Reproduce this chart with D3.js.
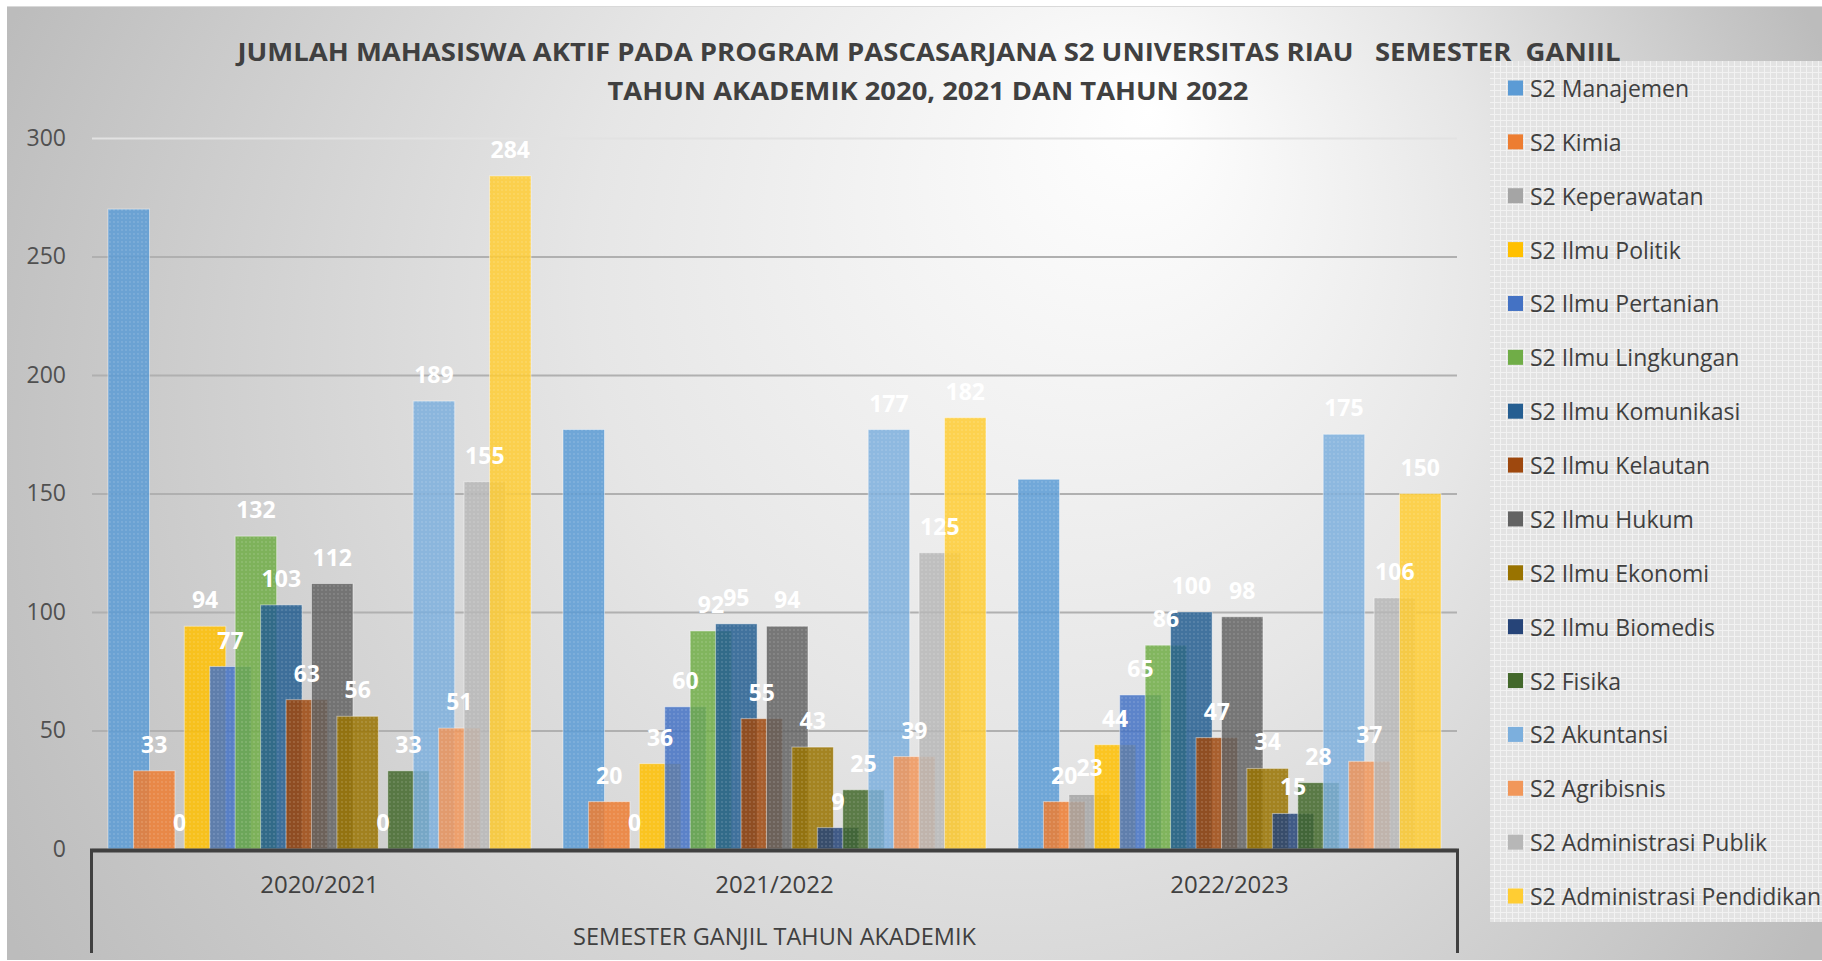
<!DOCTYPE html>
<html>
<head>
<meta charset="utf-8">
<script src="https://cdn.jsdelivr.net/npm/d3@7/dist/d3.min.js"></script>
<style>
  html, body { margin: 0; padding: 0; background: #ffffff; }
  svg { display: block; font-family: "Open Sans", "Noto Sans", sans-serif; }
</style>
</head>
<body>
<div id="chart"></div>
<script>
//Chart: data
var years = ["2020/2021", "2021/2022", "2022/2023"];
var seriesNames = ["S2 Manajemen", "S2 Kimia", "S2 Keperawatan", "S2 Ilmu Politik", "S2 Ilmu Pertanian",
    "S2 Ilmu Lingkungan", "S2 Ilmu Komunikasi", "S2 Ilmu Kelautan", "S2 Ilmu Hukum", "S2 Ilmu Ekonomi",
    "S2 Ilmu Biomedis", "S2 Fisika", "S2 Akuntansi", "S2 Agribisnis", "S2 Administrasi Publik",
    "S2 Administrasi Pendidikan"];
var values2020 = [270, 33, 0, 94, 77, 132, 103, 63, 112, 56, 0, 33, 189, 51, 155, 284];
var values2021 = [177, 20, 0, 36, 60, 92, 95, 55, 94, 43, 9, 25, 177, 39, 125, 182];
var values2022 = [156, 20, 23, 44, 65, 86, 100, 47, 98, 34, 15, 28, 175, 37, 106, 150];
var seriesColors = ["#5B9BD5", "#ED7D31", "#A5A5A5", "#FFC000", "#4472C4", "#70AD47", "#255E91", "#9E480E",
    "#636363", "#997300", "#264478", "#43682B", "#7CAFDD", "#F1975A", "#B7B7B7", "#FFCD33"];
var noLabel = ["S2 Manajemen"];
var yTicks = [0, 50, 100, 150, 200, 250, 300];
var titleLines = ["JUMLAH MAHASISWA AKTIF PADA PROGRAM PASCASARJANA S2 UNIVERSITAS RIAU   SEMESTER  GANJIL",
    "TAHUN AKADEMIK 2020, 2021 DAN TAHUN 2022"];
var groupTitle = "SEMESTER GANJIL TAHUN AKADEMIK";

var valuesByYear = [values2020, values2021, values2022];

//Chart: sizes
var W = 1822, H = 961;
var plotLeft = 92, plotRight = 1457, plotTop = 138, plotBottom = 849;
var barW = 41.5;
var barPad = 16;
var colorText = "#404040";

var svg = d3.select("#chart").append("svg")
    .attr("width", W)
    .attr("height", H);

var defs = svg.append("defs");

//Background gradient (bright spot upper right of centre)
var bg = defs.append("radialGradient")
    .attr("id", "bg")
    .attr("gradientUnits", "userSpaceOnUse")
    .attr("cx", 911).attr("cy", 480).attr("r", 1010)
    .attr("fx", 1150).attr("fy", 110);
bg.append("stop").attr("offset", 0).attr("stop-color", "#ffffff");
bg.append("stop").attr("offset", 0.45).attr("stop-color", "#e6e6e6");
bg.append("stop").attr("offset", 1).attr("stop-color", "#bcbcbc");

//Bar texture
var dots = defs.append("pattern")
    .attr("id", "dots")
    .attr("patternUnits", "userSpaceOnUse")
    .attr("width", 4).attr("height", 4);
dots.append("circle").attr("cx", 2).attr("cy", 2).attr("r", 0.7)
    .attr("fill", "#ffffff").attr("fill-opacity", 0.28);

//Legend texture
var grid = defs.append("pattern")
    .attr("id", "lgrid")
    .attr("patternUnits", "userSpaceOnUse")
    .attr("width", 6).attr("height", 6);
grid.append("rect").attr("width", 6).attr("height", 6).attr("fill", "#e3e3e3");
grid.append("path").attr("d", "M0,0.5H6M0.5,0V6")
    .attr("stroke", "#f2f2f2").attr("stroke-width", 1);

svg.append("rect")
    .attr("x", 7).attr("y", 7)
    .attr("width", W - 7).attr("height", H - 8)
    .attr("fill", "url(#bg)");
svg.append("line")
    .attr("x1", 7).attr("x2", W).attr("y1", 6.5).attr("y2", 6.5)
    .attr("stroke", "#d9d9d9").attr("stroke-width", 1);

//Scales
var x0 = d3.scaleBand().domain(years).range([plotLeft, plotRight]).padding(0);
var x1 = d3.scalePoint().domain(seriesNames)
    .range([barPad + barW / 2, x0.bandwidth() - barPad - barW / 2]);
var y = d3.scaleLinear().domain([0, 300]).range([plotBottom, plotTop]);
var color = d3.scaleOrdinal().domain(seriesNames).range(seriesColors);

//Grid + y axis
var yAxis = svg.append("g")
    .attr("transform", "translate(" + plotLeft + ",0)")
    .call(d3.axisLeft(y).tickValues(yTicks).tickSize(-(plotRight - plotLeft)).tickPadding(26));
yAxis.select(".domain").remove();
yAxis.selectAll(".tick line")
    .attr("stroke", function (d) { return d == 300 ? "#e2e2e2" : "#b0b0b0"; })
    .attr("stroke-width", 2);
yAxis.selectAll(".tick text")
    .attr("fill", "#505050")
    .attr("font-size", 23)
    .attr("font-family", "Open Sans, Noto Sans, sans-serif");

//Bars
var rows = [];
years.forEach(function (yr, gi) {
    seriesNames.forEach(function (s, si) {
        rows.push({ year: yr, series: s, value: valuesByYear[gi][si] });
    });
});

var bars = svg.append("g");
rows.forEach(function (d) {
    var bx = x0(d.year) + x1(d.series) - barW / 2;
    var by = y(d.value);
    var bh = y(0) - y(d.value);
    bars.append("rect")
        .attr("x", bx).attr("y", by)
        .attr("width", barW).attr("height", bh)
        .attr("fill", color(d.series))
        .attr("fill-opacity", 0.85)
        .attr("stroke", "#ffffff").attr("stroke-opacity", 0.45).attr("stroke-width", 1);
    bars.append("rect")
        .attr("x", bx).attr("y", by)
        .attr("width", barW).attr("height", bh)
        .attr("fill", "url(#dots)");
});

//Data labels
svg.append("g").selectAll("text")
    .data(rows.filter(function (d) { return !noLabel.includes(d.series); }))
    .join("text")
    .attr("x", function (d) { return x0(d.year) + x1(d.series); })
    .attr("y", function (d) { return y(d.value) - 18; })
    .attr("text-anchor", "middle")
    .attr("fill", "#ffffff")
    .attr("font-weight", "bold")
    .attr("font-size", 23)
    .text(function (d) { return d.value; });

//Category axis box
svg.append("line")
    .attr("x1", plotLeft - 2).attr("x2", plotRight + 2)
    .attr("y1", plotBottom + 1.5).attr("y2", plotBottom + 1.5)
    .attr("stroke", colorText).attr("stroke-width", 4);
[plotLeft - 0.5, plotRight + 0.5].forEach(function (lx) {
    svg.append("line")
        .attr("x1", lx).attr("x2", lx)
        .attr("y1", plotBottom).attr("y2", 953)
        .attr("stroke", colorText).attr("stroke-width", 3);
});

svg.append("g").selectAll("text")
    .data(years)
    .join("text")
    .attr("x", function (d) { return x0(d) + x0.bandwidth() / 2; })
    .attr("y", 893)
    .attr("text-anchor", "middle")
    .attr("fill", colorText)
    .attr("font-size", 24)
    .text(function (d) { return d; });

svg.append("text")
    .attr("x", (plotLeft + plotRight) / 2)
    .attr("y", 945)
    .attr("text-anchor", "middle")
    .attr("fill", colorText)
    .attr("font-size", 23.5)
    .text(groupTitle);

//Title
var titleX = [929, 928];
var titleY = [61, 100];
var titleLen = [1383, 641];
titleLines.forEach(function (t, i) {
    svg.append("text")
        .attr("x", titleX[i])
        .attr("y", titleY[i])
        .attr("text-anchor", "middle")
        .attr("fill", colorText)
        .attr("font-weight", "bold")
        .attr("font-size", 25)
        .attr("textLength", titleLen[i])
        .attr("lengthAdjust", "spacingAndGlyphs")
        .style("white-space", "pre")
        .text(t);
});

//Legend
svg.append("rect")
    .attr("x", 1490).attr("y", 61)
    .attr("width", W - 1490).attr("height", 922 - 61)
    .attr("fill", "url(#lgrid)");

var legendY = d3.scalePoint().domain(seriesNames).range([88, 896]);
var legend = svg.append("g").selectAll("g")
    .data(seriesNames)
    .join("g")
    .attr("transform", function (d) { return "translate(1508," + legendY(d) + ")"; });
legend.append("rect")
    .attr("x", 0).attr("y", -7.5)
    .attr("width", 15).attr("height", 15)
    .attr("fill", function (d) { return color(d); });
legend.append("text")
    .attr("x", 22)
    .attr("y", 0)
    .attr("dominant-baseline", "central")
    .attr("fill", colorText)
    .attr("font-size", 23)
    .text(function (d) { return d; });
</script>
</body>
</html>
